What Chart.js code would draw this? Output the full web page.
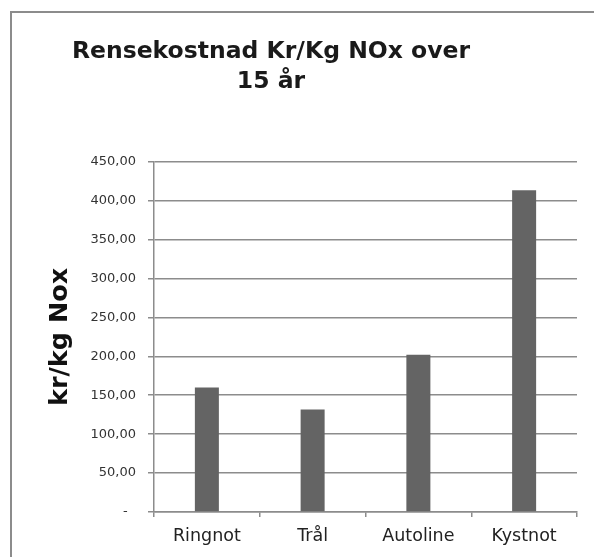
<!DOCTYPE html>
<html>
<head>
<meta charset="utf-8">
<script src="https://cdn.jsdelivr.net/npm/chart.js@4/dist/chart.umd.min.js"></script>
<style>
  html, body { margin: 0; padding: 0; background: #ffffff; }
  #wrap { width: 594px; height: 557px; position: relative; }
</style>
</head>
<body>
<div id="wrap"><canvas id="c" width="594" height="557"></canvas></div>
<script>
const categories = ['Ringnot', 'Trål', 'Autoline', 'Kystnot'];
const costValues = [160.0, 131.6, 202.0, 413.5];
const chartTitle = ['Rensekostnad Kr/Kg NOx over', '15 år'];
const yAxisTitle = 'kr/kg Nox';
const yTickMin = 0, yTickMax = 450, yTickStep = 50;

const FONT = "'DejaVu Sans', Verdana, sans-serif";
const GRID = '#8c8c8c';

const framePlugin = {
  id: 'frame',
  beforeDraw(chart) {
    const ctx = chart.ctx;
    ctx.save();
    ctx.strokeStyle = '#8c8c8c';
    ctx.lineWidth = 2;
    ctx.beginPath();
    ctx.moveTo(11, 557);
    ctx.lineTo(11, 12);
    ctx.lineTo(594, 12);
    ctx.stroke();
    ctx.restore();
  },
  afterLayout(chart) {
    const tb = chart.titleBlock;
    if (tb) { tb.left = 0; tb.right = 542; tb.width = 542; }
  }
};

new Chart(document.getElementById('c'), {
  type: 'bar',
  data: {
    labels: categories,
    datasets: [{
      data: costValues,
      backgroundColor: '#646464',
      borderWidth: 0,
      categoryPercentage: 1.0,
      barPercentage: 0.227
    }]
  },
  plugins: [framePlugin],
  options: {
    responsive: false,
    animation: false,
    devicePixelRatio: 1,
    layout: { padding: { left: 0, right: 17, top: 0, bottom: 0 } },
    plugins: {
      legend: { display: false },
      tooltip: { enabled: false },
      title: {
        display: true,
        text: chartTitle,
        color: '#1a1a1a',
        font: { family: FONT, size: 23.5, weight: 'bold', lineHeight: 1.26 },
        padding: { top: 37.5, bottom: 65 }
      }
    },
    scales: {
      x: {
        grid: { display: true, drawOnChartArea: false, drawTicks: true, tickLength: 5, color: GRID, lineWidth: 1.5, offset: true },
        border: { display: true, color: GRID, width: 1.5 },
        ticks: { color: '#222222', font: { family: FONT, size: 17.5 }, padding: 9, maxRotation: 0 },
        afterFit(scale) { scale.height = 45; }
      },
      y: {
        min: yTickMin,
        max: yTickMax,
        grid: { color: GRID, lineWidth: 1.5, tickLength: 6, drawTicks: true },
        border: { display: true, color: GRID, width: 1.5 },
        ticks: {
          stepSize: yTickStep,
          color: '#333333',
          font: { family: FONT, size: 13 },
          padding: 12,
          callback: (v) => v === 0 ? '-  ' : v.toFixed(2).replace('.', ',')
        },
        title: {
          display: true,
          text: yAxisTitle,
          color: '#111111',
          font: { family: FONT, size: 25.5, weight: 'bold', lineHeight: 1.2 },
          padding: { top: 45.5, bottom: 0 }
        },
        afterFit(scale) { scale.width = 154; }
      }
    }
  }
});
</script>
</body>
</html>
